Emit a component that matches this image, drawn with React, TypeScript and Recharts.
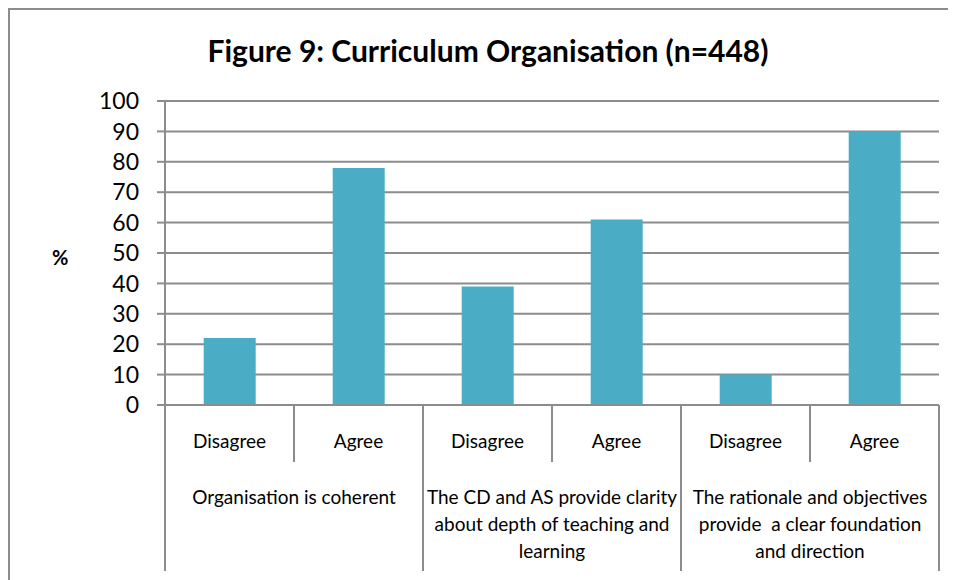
import React from 'react';
import { BarChart, Bar, XAxis, YAxis, CartesianGrid } from 'recharts';

const answers = ['Disagree', 'Agree', 'Disagree', 'Agree', 'Disagree', 'Agree'];
const percents = [22, 78, 39, 61, 10, 90];
const groupLabels = [
  ['Organisation is coherent'],
  ['The CD and AS provide clarity', 'about depth of teaching and', 'learning'],
  ['The rationale and objectives', 'provide  a clear foundation', 'and direction'],
];
const yTicks = [0, 10, 20, 30, 40, 50, 60, 70, 80, 90, 100];

const data = answers.map((a, i) => ({ key: `${a}-${i}`, answer: a, value: percents[i] }));

const GRAY = '#8c8c8c';
const FONT = 'Lato, "Open Sans", sans-serif';

const MultiLevelTick = (props: any) => {
  const { x, y, payload, index, width } = props;
  const i = index ?? payload?.index ?? 0;
  const slot = width ? width / answers.length : 129;
  const right = x + slot / 2;
  const left = x - slot / 2;
  const groupEnd = i % 2 === 1;
  const lines = i % 2 === 0 ? groupLabels[i / 2] : null;
  return (
    <g>
      {i === 0 && <line x1={left} y1={y} x2={left} y2={y + 166} stroke={GRAY} strokeWidth={2} />}
      <line x1={right} y1={y} x2={right} y2={groupEnd ? y + 166 : y + 57} stroke={GRAY} strokeWidth={2} />
      <text x={x} y={y + 43} textAnchor="middle" fontSize={19} fontFamily={FONT} fill="#000">
        {answers[i]}
      </text>
      {lines &&
        lines.map((ln, k) => (
          <text key={k} x={right} y={y + 99 + k * 27} textAnchor="middle" fontSize={19} fontFamily={FONT} fill="#000" style={{ whiteSpace: 'pre' }}>
            {ln}
          </text>
        ))}
    </g>
  );
};

export default function App() {
  return (
    <div style={{ position: 'relative', width: 948, height: 572, fontFamily: FONT }}>
      <div style={{ position: 'absolute', left: 0, top: 0, width: 960, height: 600, borderLeft: `2px solid ${GRAY}`, borderTop: `2px solid ${GRAY}` }} />
      <div style={{ position: 'absolute', left: 0, width: 960, top: 24, fontWeight: 700, fontSize: 30, color: '#000' }}>
        <span style={{ position: 'absolute', left: 480, transform: 'translateX(-50%)', whiteSpace: 'nowrap' }}>
          Figure 9: Curriculum Organisation (n=448)
        </span>
      </div>
      <div style={{ position: 'absolute', left: 44, top: 237, fontWeight: 700, fontSize: 20, color: '#000' }}>%</div>
      <BarChart width={948} height={572} data={data} margin={{ top: 93, right: 17, left: 97, bottom: 0 }} barCategoryGap="30%">
        <CartesianGrid vertical={false} stroke={GRAY} strokeWidth={2} />
        <XAxis
          dataKey="key"
          interval={0}
          height={175}
          tickSize={0}
          tickMargin={0}
          tickLine={false}
          axisLine={{ stroke: GRAY, strokeWidth: 2 }}
          tick={<MultiLevelTick />}
        />
        <YAxis
          domain={[0, 100]}
          ticks={yTicks}
          interval={0}
          width={60}
          tickSize={8}
          tickMargin={18}
          axisLine={{ stroke: GRAY, strokeWidth: 2 }}
          tickLine={{ stroke: GRAY, strokeWidth: 2 }}
          tick={{ fill: '#000', fontSize: 23, fontFamily: FONT }}
        />
        <Bar dataKey="value" fill="#4BACC6" isAnimationActive={false} />
      </BarChart>
    </div>
  );
}
